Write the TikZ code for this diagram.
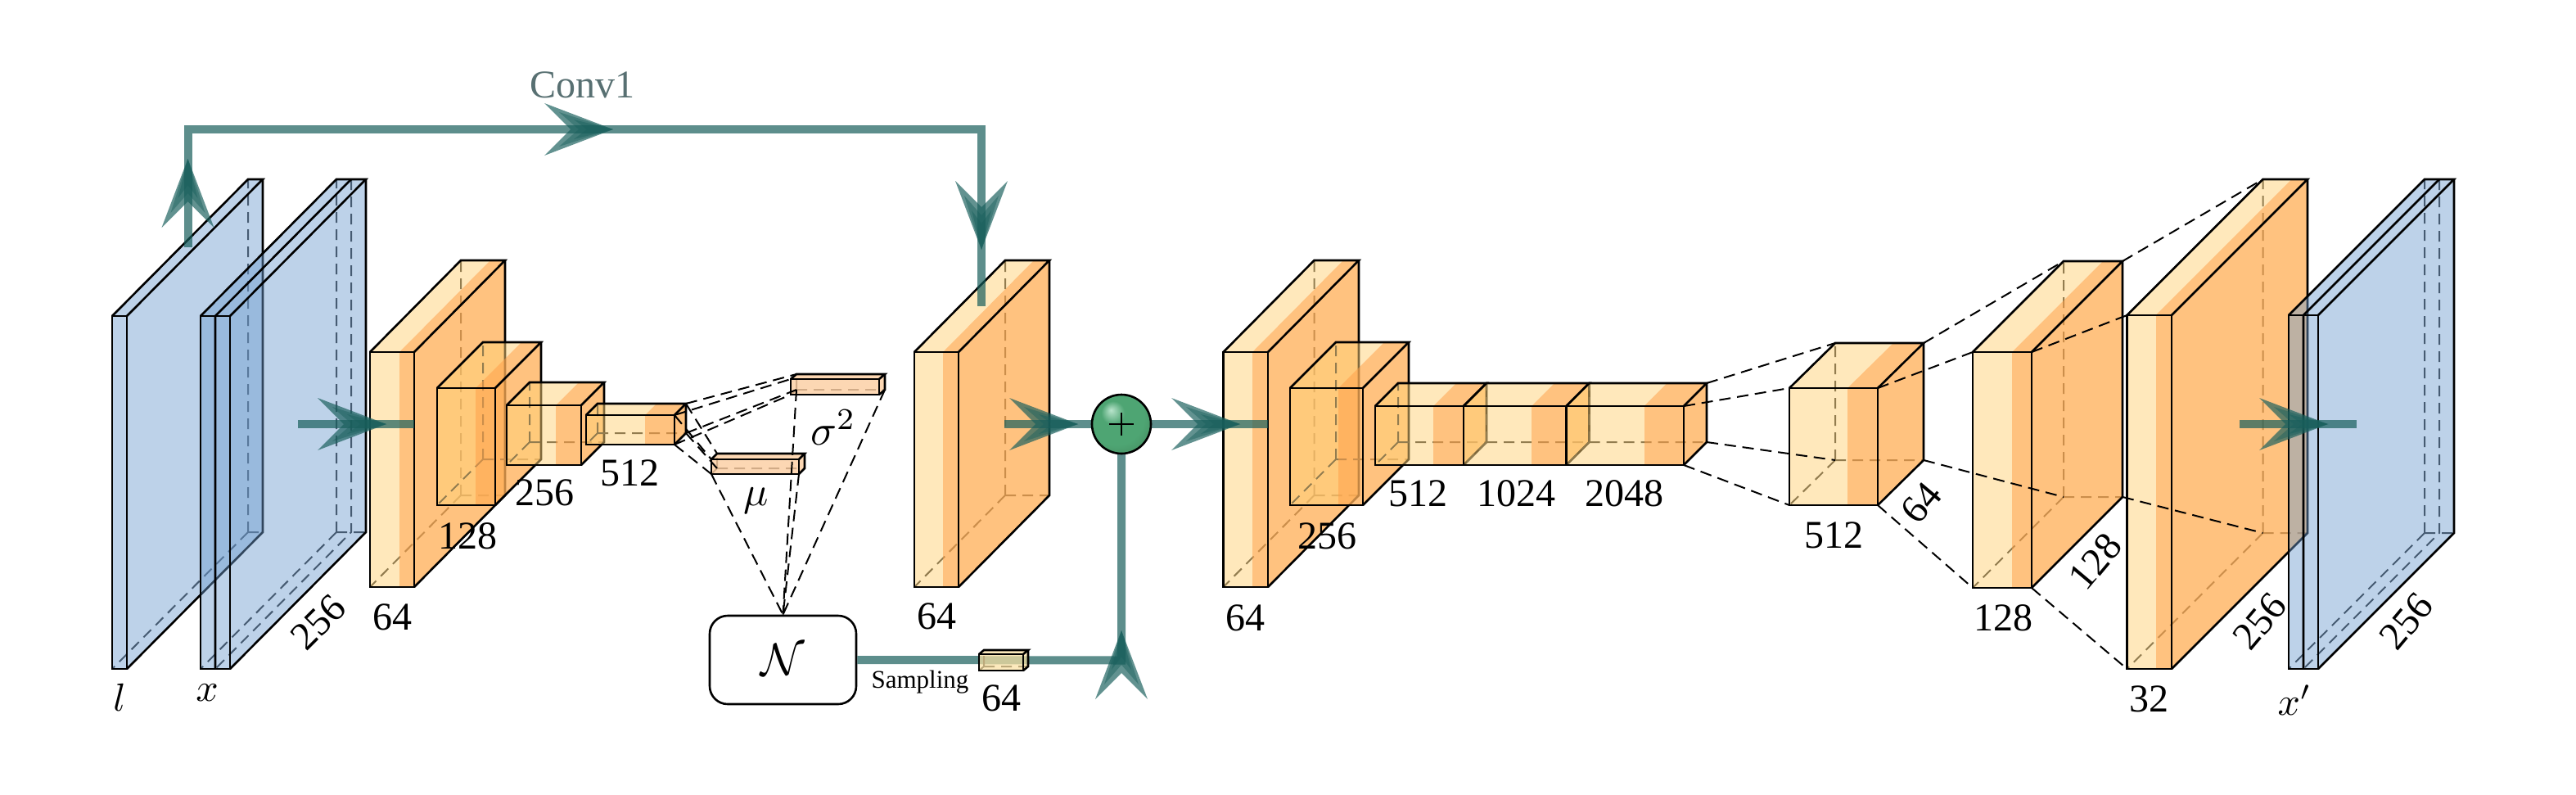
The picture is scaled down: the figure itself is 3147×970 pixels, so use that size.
\documentclass[tikz,border=0pt]{standalone}
\usepackage{fontspec}
\setmainfont{Liberation Serif}
\usetikzlibrary{shadings}
\definecolor{warmL}{RGB}{255,211,121}
\definecolor{warmR}{RGB}{255,175,87}
\definecolor{blueF}{RGB}{110,157,207}
\definecolor{peachF}{RGB}{252,205,160}
\definecolor{creamF}{RGB}{252,225,160}
\definecolor{tealC}{RGB}{25,95,92}
\definecolor{convC}{RGB}{88,112,114}
\definecolor{ballA}{RGB}{185,228,204}
\definecolor{ballB}{RGB}{78,165,115}
\definecolor{ballC}{RGB}{65,130,88}
\pgfdeclareradialshading{greenball}{\pgfpoint{-9bp}{12bp}}{%
  color(0bp)=(ballA); color(10bp)=(ballB); color(24bp)=(ballB); color(40bp)=(ballC); color(50bp)=(ballC)}
\tikzset{
  edge/.style={draw=black,line width=2.6pt,line join=miter},
  hidden/.style={draw=black!85,line width=2pt,dash pattern=on 13pt off 8pt},
  link/.style={draw=black,line width=2pt,dash pattern=on 14pt off 8pt},
  warm left/.style={fill=warmL,fill opacity=.5},
  warm right/.style={fill=warmR,fill opacity=.76},
  blue left/.style={fill=blueF,fill opacity=.45},
  blue right/.style={fill=blueF,fill opacity=.45},
  peach left/.style={fill=peachF,fill opacity=.8},
  peach right/.style={fill=peachF,fill opacity=.8},
  cream left/.style={fill=creamF,fill opacity=.7},
  cream right/.style={fill=creamF,fill opacity=.7},
  lab/.style={font=\fontsize{48}{50}\selectfont,inner sep=0pt,text=black},
  mathlab/.style={font=\normalsize,inner sep=0pt,text=black,scale=4.8},
  flow/.style={draw=tealC,draw opacity=.7,line width=10pt,line join=miter},
  headpic/.pic={
    \fill[tealC,fill opacity=.68] (0,0)--(-84,-32)--(-52,0)--(-84,32)--cycle;
    \fill[tealC,fill opacity=.45] (0,0)--(-66,-21)--(-42,0)--(-66,21)--cycle;
    \fill[tealC,fill opacity=.45] (0,0)--(-48,-12)--(-32,0)--(-48,12)--cycle;
  }
}
% name, xl, xsplit, xr, ytop, ybottom, dx, dy, kind
\newcommand{\cubebox}[9]{%
  \coordinate (#1-ftl) at (#2,#5);
  \coordinate (#1-fts) at (#3,#5);
  \coordinate (#1-ftr) at (#4,#5);
  \coordinate (#1-fbl) at (#2,#6);
  \coordinate (#1-fbs) at (#3,#6);
  \coordinate (#1-fbr) at (#4,#6);
  \coordinate (#1-btl) at ([shift={(#7,-#8)}]#1-ftl);
  \coordinate (#1-bts) at ([shift={(#7,-#8)}]#1-fts);
  \coordinate (#1-btr) at ([shift={(#7,-#8)}]#1-ftr);
  \coordinate (#1-bbl) at ([shift={(#7,-#8)}]#1-fbl);
  \coordinate (#1-bbr) at ([shift={(#7,-#8)}]#1-fbr);
  \draw[hidden] (#1-bbl)--(#1-btl) (#1-bbl)--(#1-bbr) (#1-bbl)--(#1-fbl);
  \fill[#9 left] (#1-ftl)--(#1-fts)--(#1-fbs)--(#1-fbl)--cycle;
  \fill[#9 right] (#1-fts)--(#1-ftr)--(#1-fbr)--(#1-fbs)--cycle;
  \fill[#9 left] (#1-ftl)--(#1-fts)--(#1-bts)--(#1-btl)--cycle;
  \fill[#9 right] (#1-fts)--(#1-ftr)--(#1-btr)--(#1-bts)--cycle;
  \fill[#9 right] (#1-ftr)--(#1-fbr)--(#1-bbr)--(#1-btr)--cycle;
  \draw[edge] (#1-ftl)--(#1-ftr)--(#1-fbr)--(#1-fbl)--cycle;
  \draw[edge] (#1-ftl)--(#1-btl)--(#1-btr)--(#1-ftr);
  \draw[edge] (#1-btr)--(#1-bbr)--(#1-fbr);
}
% four dashed lines joining two boxes
\newcommand{\joinbox}[2]{%
  \draw[link] (#1-btr)--(#2-btl) (#1-ftr)--(#2-ftl) (#1-bbr)--(#2-bbl) (#1-fbr)--(#2-fbl);
}
\begin{document}
\begin{tikzpicture}[x=1pt,y=-1pt]
\useasboundingbox (0,0) rectangle (3147,970);
\fill[white] (0,0) rectangle (3147,970);

% --- input plates
\cubebox{lp}{137}{155}{155}{386}{817}{166}{167}{blue}
\draw[hidden] (429,219)--(429,650)--(263,817);
\cubebox{xp}{245}{281}{281}{386}{817}{166}{167}{blue}
\coordinate (xmt) at (263,386);
\coordinate (xmb) at (263,817);
\coordinate (xmk) at (429,219);
\draw[edge] (xmb)--(xmt)--(xmk);

% --- encoder
\cubebox{e1}{452}{488}{506}{430}{717}{111}{112}{warm}
\cubebox{e2}{534}{581}{605}{474}{617}{56}{56}{warm}
\cubebox{e3}{619}{679}{710}{495}{568}{28}{28}{warm}
\cubebox{e4}{716}{788}{824}{507}{543}{14}{14}{warm}

% --- latent
\cubebox{sg}{966}{1074}{1074}{463}{482}{7}{6}{peach}
\cubebox{mu}{869}{976}{976}{561}{579}{7}{7}{peach}
\joinbox{e4}{sg}
\joinbox{e4}{mu}
\node[draw=black,line width=2.6pt,rounded corners=22pt,minimum width=179pt,minimum height=108pt,inner sep=0pt] (nn) at (956.5,806) {};
\node[mathlab,scale=1.15] (nntext) at (nn.center) {$\mathcal{N}$};
\draw[link] (sg-bbl)--(nn.north) (sg-bbr)--(nn.north) (mu-fbl)--(nn.north) (mu-fbr)--(nn.north);

% --- skip target and decoder
\cubebox{m1}{1117}{1152}{1171}{430}{717}{111}{112}{warm}
\cubebox{d1}{1494.5}{1530}{1549}{430}{717}{111}{112}{warm}
\cubebox{d2}{1576}{1635}{1665}{474}{617}{56}{56}{warm}
\cubebox{d3}{1680}{1751}{1788}{496}{568}{28}{28}{warm}
\cubebox{d4}{1788}{1871}{1913.5}{496}{568}{28}{28}{warm}
\cubebox{d5}{1913.5}{2008.5}{2057}{496}{568}{28}{28}{warm}
\cubebox{u1}{2186}{2257}{2294}{474}{617}{56}{55}{warm}
\cubebox{u2}{2410}{2458}{2482}{430}{718}{111}{111}{warm}
\cubebox{u3}{2598.5}{2633.5}{2653}{385}{817}{166}{166}{warm}
\draw[hidden] (2980,219)--(2980,651)--(2814,817);
\cubebox{op}{2796}{2832}{2832}{385}{817}{166}{166}{blue}
\coordinate (omt) at (2814,385);
\coordinate (omb) at (2814,817);
\coordinate (omk) at (2980,219);
\draw[edge] (omb)--(omt)--(omk);
\joinbox{d5}{u1}
\joinbox{u1}{u2}
\joinbox{u2}{u3}

% --- flows
\coordinate (c1) at (229.5,302);
\coordinate (c2) at (229.5,158);
\coordinate (c3) at (1199,158);
\coordinate (c4) at (1199,374);
\draw[flow] (c1)--(c2)--(c3)--(c4);
\pic[rotate=90] at (229.5,194) {headpic};
\pic at (749,158) {headpic};
\pic[rotate=-90] at (1199,305) {headpic};

\coordinate (a1) at (364,518);
\coordinate (a2) at (506,518);
\draw[flow] (a1)--(a2);
\pic at (472,518) {headpic};

\node[circle,minimum size=72pt,inner sep=0pt,shading=greenball] (plus) at (1370,518) {};
\coordinate (a3) at (1227,518);
\draw[flow] (a3)--(plus.west);
\pic at (1317,518) {headpic};
\coordinate (a4) at (1549,518);
\draw[flow] (plus.east)--(a4);
\pic at (1515,518) {headpic};

\coordinate (b1) at (1370,806.5);
\draw[flow] (nn.east)--(b1)--(plus.south);
\pic[rotate=90] at (1370,770) {headpic};

\draw[black,line width=2.6pt] (plus) circle[radius=36pt];
\draw[black,line width=2pt] (1355,518)--(1385,518) (1370,504)--(1370,532);

\cubebox{z}{1196}{1250}{1250}{799}{819}{6}{5}{cream}

\coordinate (o1) at (2736,518);
\coordinate (o2) at (2879,518);
\draw[flow] (o1)--(o2);
\pic at (2844,518) {headpic};

% --- labels
\node[lab,text=convC] (tconv) at (711,104) {Conv1};
\node[mathlab] (tl) at (146,852) {$l$};
\node[mathlab] (tx) at (253,846) {$x$};
\node[lab,rotate=45] (t256a) at (389,760) {256};
\node[lab] (t64a) at (479,754) {64};
\node[lab] (t128a) at (571,655) {128};
\node[lab] (t256b) at (665,602) {256};
\node[lab] (t512a) at (769,578) {512};
\node[mathlab,scale=1.1] (tsig) at (1018,522) {$\sigma^2$};
\node[mathlab,scale=1.05] (tmu) at (924,612) {$\mu$};
\node[lab,font=\fontsize{31}{31}\selectfont] (tsamp) at (1124,833) {Sampling};
\node[lab] (t64z) at (1223,853) {64};
\node[lab] (t64m) at (1144,753) {64};
\node[lab] (t64d) at (1521,755) {64};
\node[lab] (t256d) at (1621,655) {256};
\node[lab] (t512d) at (1732,603) {512};
\node[lab] (t1024) at (1852,603) {1024};
\node[lab] (t2048) at (1984,603) {2048};
\node[lab] (t512u) at (2240,654) {512};
\node[lab,rotate=50] (t64u) at (2347,614) {64};
\node[lab] (t128u) at (2447,755) {128};
\node[lab,rotate=50] (t128r) at (2560,686) {128};
\node[lab] (t32) at (2625,854) {32};
\node[lab,rotate=50] (t256u) at (2761,759) {256};
\node[mathlab] (txp) at (2803,855) {$x'$};
\node[lab,rotate=50] (t256o) at (2940,759) {256};
\end{tikzpicture}
\end{document}
